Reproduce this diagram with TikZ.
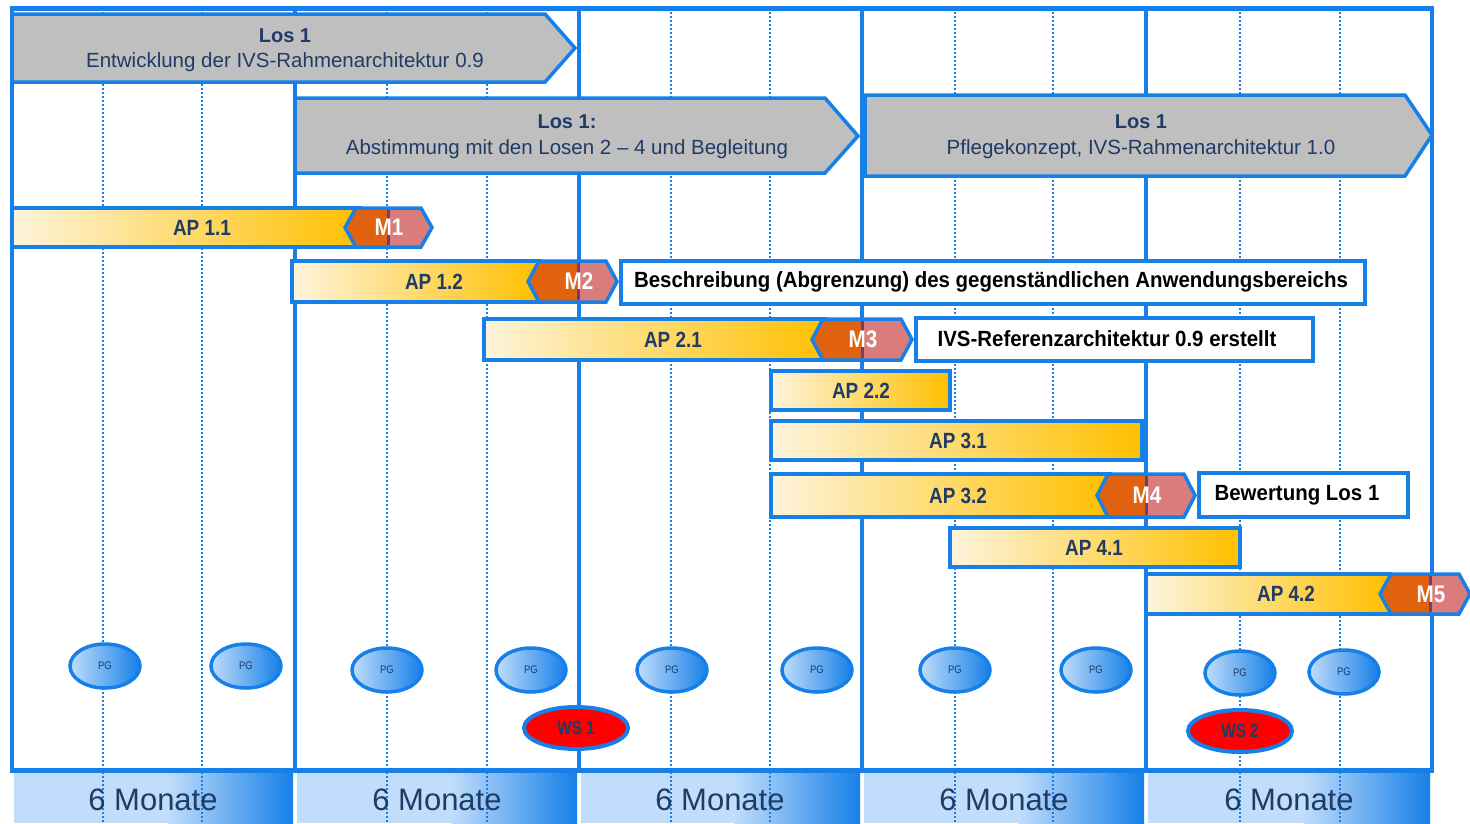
\documentclass[tikz,border=0pt]{standalone}
\usepackage{fontspec}
\setmainfont{Liberation Sans}
\newfontfamily\cond[FakeStretch=0.86]{Liberation Sans}
\newfontfamily\condb[FakeStretch=0.93]{Liberation Sans}
\newfontfamily\condw[FakeStretch=0.8]{Liberation Sans}
\usetikzlibrary{shapes.geometric}
\definecolor{bl}{RGB}{22,128,232}
\definecolor{dkb}{RGB}{31,59,102}
\definecolor{losgray}{RGB}{191,191,191}
\definecolor{apL}{RGB}{254,244,220}
\definecolor{apM}{RGB}{249,216,120}
\definecolor{apR}{RGB}{255,192,0}
\definecolor{msor}{RGB}{224,98,14}
\definecolor{mspk}{RGB}{219,124,124}
\definecolor{mspu}{RGB}{107,63,120}
\definecolor{lbl}{RGB}{192,221,251}
\tikzset{
  major/.style={bl, line width=4pt},
  minor/.style={bl, line width=1.4pt, dash pattern=on 2pt off 2pt},
  losbox/.style={draw=bl, fill=losgray, line width=3.5pt, line join=miter},
  apbar/.style={draw=bl, line width=3.5pt, left color=apL, middle color=apM, right color=apR},
  aptext/.style={text=dkb, font=\cond\bfseries\fontsize{22}{24}\selectfont},
  mstext/.style={text=white, font=\cond\bfseries\fontsize{24}{26}\selectfont},
  txtbox/.style={draw=bl, fill=white, line width=3.5pt},
  boxtext/.style={text=black, font=\condb\bfseries\fontsize{22}{24}\selectfont},
  lostitle/.style={text=dkb, font=\bfseries\fontsize{20}{22}\selectfont},
  lossub/.style={text=dkb, font=\fontsize{20.5}{22}\selectfont},
  pg/.style={ellipse, draw=bl, line width=3.5pt, minimum width=70pt, minimum height=44pt, inner sep=0pt,
    left color=lbl, middle color=lbl, right color=bl, text=dkb, font=\cond\fontsize{11}{12}\selectfont},
  ws/.style={ellipse, draw=bl, line width=4pt, minimum width=104pt, minimum height=42pt, inner sep=0pt,
    fill=red, text=dkb, font=\condw\bfseries\fontsize{19}{20}\selectfont},
  monate/.style={text=dkb, font=\fontsize{31}{34}\selectfont},
}
\newcommand\mstone[7]{%
  \pgfmathsetmacro\yc{(#4+#5)/2}
  \fill[msor] (#1,\yc) -- (#1+11,#4) -- (#2,#4) -- (#2,#5) -- (#1+11,#5) -- cycle;
  \fill[mspk] (#2,#4) -- (#3-11,#4) -- (#3,\yc) -- (#3-11,#5) -- (#2,#5) -- cycle;
  \draw[mspu, line width=3pt] (#2,#4+2) -- (#2,#5-2);
  \draw[bl, line width=3.5pt, line join=miter] (#1,\yc) -- (#1+11,#4) -- (#3-11,#4) -- (#3,\yc) -- (#3-11,#5) -- (#1+11,#5) -- cycle;
  \node[mstext] (#7) at (#2+1,\yc) {#6};
}
\newcommand\apbar[6]{% xl xr yt yb textx label
  \path[apbar] (#1,#3) rectangle (#2,#4);
  \pgfmathsetmacro\yc{(#3+#4)/2}
  \node[aptext] (ap-#6) at (#5,\yc) {AP #6};
}
\begin{document}
\begin{tikzpicture}[x=1pt,y=-1pt]
\useasboundingbox (0,0) rectangle (1470,823);
\fill[white] (0,0) rectangle (1470,823);
% bottom band
\foreach \a/\b in {12/295,295/579,579/862,862/1146,1146/1432}{
  \fill[lbl] (\a+2,772) rectangle (\b-2,823);
  \shade[left color=lbl, right color=bl] ({\a+0.55*(\b-\a)},772) rectangle (\b-2,823);
}
% minor dotted lines
\foreach \x in {103,202,387,487,671,770,955,1053,1240,1340}{
  \draw[minor] (\x,8) -- (\x,823);
}
% major lines
\foreach \x in {12,295,579,862,1146,1432}{
  \draw[major] (\x,8) -- (\x,772);
}
\draw[major, line width=5pt] (10,8) -- (1434,8);
\draw[major, line width=5pt] (10,770) -- (1434,770);
% band text
\node[monate] (m1) at (153,800) {6 Monate};
\node[monate] (m2) at (437,800) {6 Monate};
\node[monate] (m3) at (720,800) {6 Monate};
\node[monate] (m4) at (1004,800) {6 Monate};
\node[monate] (m5) at (1289,800) {6 Monate};
% Los boxes
\path[losbox] (12,14) -- (545,14) -- (575,48) -- (545,82) -- (12,82) -- cycle;
\node[lostitle] (los1t) at (285,36) {Los 1};
\node[lossub] (los1s) at (285,62) {Entwicklung der IVS-Rahmenarchitektur 0.9};
\path[losbox] (295,98) -- (825,98) -- (858,136) -- (825,173) -- (295,173) -- cycle;
\node[lostitle] (los2t) at (567,122) {Los 1:};
\node[lossub] (los2s) at (567,149) {Abstimmung mit den Losen 2 – 4 und Begleitung};
\path[losbox] (865,95) -- (1405,95) -- (1432,135) -- (1405,176) -- (865,176) -- cycle;
\node[lostitle] (los3t) at (1141,122) {Los 1};
\node[lossub] (los3s) at (1141,149) {Pflegekonzept, IVS-Rahmenarchitektur 1.0};
% AP bars
\apbar{12}{360}{208}{247}{202}{1.1}
\apbar{292}{540}{261}{302}{434}{1.2}
\apbar{484}{825}{319}{360}{673}{2.1}
\apbar{771}{950}{371}{410}{861}{2.2}
\apbar{771}{1142}{421}{460}{958}{3.1}
\apbar{771}{1110}{474}{517}{958}{3.2}
\apbar{950}{1240}{528}{567}{1094}{4.1}
\apbar{1146}{1390}{574}{614}{1286}{4.2}
% milestones
\mstone{345}{388}{432}{208}{247}{M1}{ms1}
\mstone{528}{578}{617}{261}{302}{M2}{ms2}
\mstone{812}{862}{912}{319}{360}{M3}{ms3}
\mstone{1097}{1146}{1195}{474}{517}{M4}{ms4}
\mstone{1380}{1430}{1470}{574}{614}{M5}{ms5}
% text boxes
\path[txtbox] (621,261) rectangle (1365,304);
\node[boxtext] (t1) at (991,282) {Beschreibung (Abgrenzung) des gegenständlichen Anwendungsbereichs};
\path[txtbox] (916,318) rectangle (1313,361);
\node[boxtext] (t2) at (1107,339) {IVS-Referenzarchitektur 0.9 erstellt};
\path[txtbox] (1199,473) rectangle (1408,517);
\node[boxtext] (t3) at (1297,495) {Bewertung Los 1};
% PG ellipses
\foreach \x/\y [count=\i] in {105/666,246/666,387/670,531/670,672/670,817/670,955/670,1096/670,1240/673,1344/672}{
  \node[pg] (pg\i) at (\x,\y) {PG};
}
% WS
\node[ws] (ws1) at (576,728) {WS 1};
\node[ws] (ws2) at (1240,731) {WS 2};
\end{tikzpicture}
\end{document}
